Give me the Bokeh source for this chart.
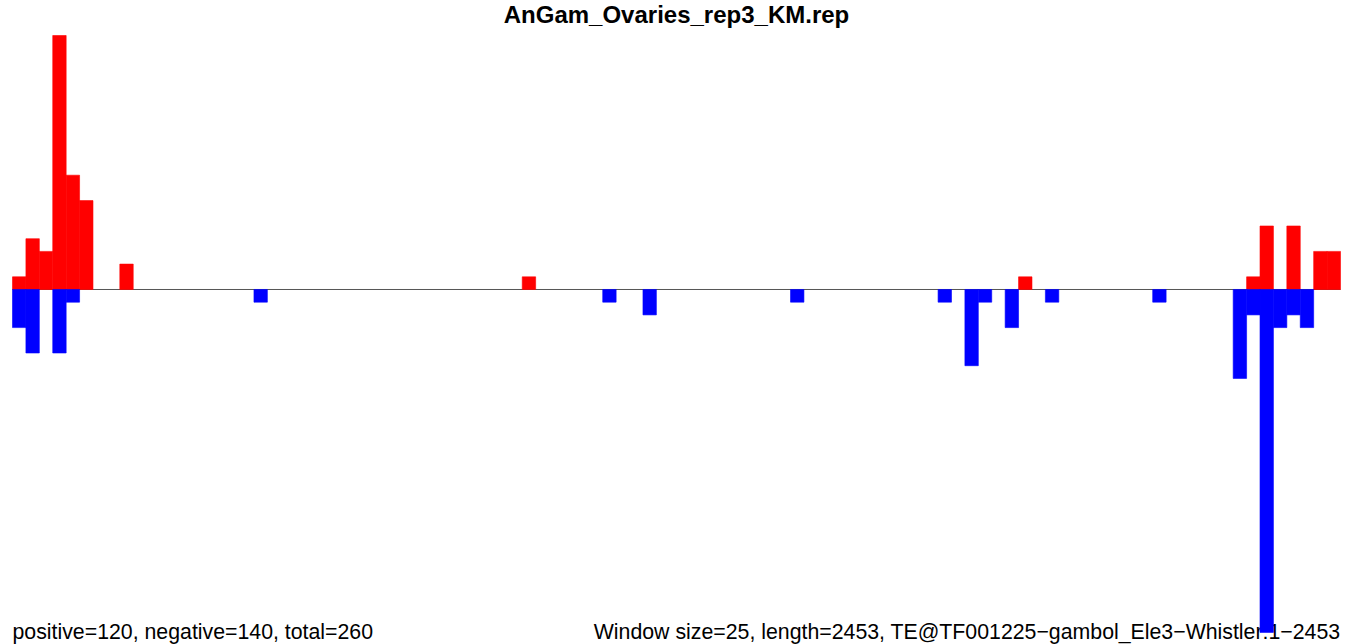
from bokeh.plotting import figure
from bokeh.models import Range1d
from bokeh.core.properties import value
from bokeh.embed import file_html
from bokeh.resources import INLINE

# ---- data ----
title_text = "AnGam_Ovaries_rep3_KM.rep"
n_windows = 99
pos_bins = [0, 1, 2, 3, 4, 5, 8, 38, 75, 92, 93, 95, 97, 98]
pos_vals = [1, 4, 3, 20, 9, 7, 2, 1, 1, 1, 5, 5, 3, 3]
neg_bins = [0, 1, 3, 4, 18, 44, 47, 58, 69, 71, 72, 74, 77, 85, 91, 92, 93, 94, 95, 96]
neg_vals = [3, 5, 5, 1, 1, 1, 2, 1, 1, 6, 1, 3, 1, 1, 7, 2, 27, 3, 2, 3]
left_note = "positive=120, negative=140, total=260"
right_note = "Window size=25, length=2453, TE@TF001225\u2212gambol_Ele3\u2212Whistler:1\u22122453"

W, H = 1352, 644
p = figure(width=W, height=H, output_backend="svg", toolbar_location=None,
           x_range=Range1d(-0.8946, n_windows + 0.8946),
           y_range=Range1d(-27.953, 22.756),
           min_border=0, min_border_left=0, min_border_right=0,
           min_border_top=0, min_border_bottom=0)
p.axis.visible = False
p.grid.visible = False
p.outline_line_color = None
p.background_fill_color = "white"
p.border_fill_color = "white"

font = value("Liberation Sans")

# bottom notes (drawn first so bars lie on top)
p.text(x=[0], y=[-27.0], text=[left_note], text_font=font, text_font_size="21.3px",
       text_align="left", text_baseline="alphabetic", text_color="black")
p.text(x=[n_windows], y=[-27.0], text=[right_note], text_font=font, text_font_size="21.3px",
       text_align="right", text_baseline="alphabetic", text_color="black")

# zero line
p.line(x=[0, n_windows], y=[0, 0], line_color="#555555", line_width=1)

# positive (red) and negative (blue) bars
p.quad(left=pos_bins, right=[b + 1 for b in pos_bins], bottom=0, top=pos_vals,
       fill_color="#ff0000", line_color="#ff0000", line_width=0.6)
p.quad(left=neg_bins, right=[b + 1 for b in neg_bins], top=0,
       bottom=[-v for v in neg_vals], fill_color="#0000ff", line_color="#0000ff",
       line_width=0.6)

# title
p.text(x=[n_windows / 2], y=[22.756], text=[title_text], text_font=font,
       text_font_size="24px", text_font_style="bold", text_align="center",
       text_baseline="top", text_color="black")

open("out.html", "w").write(file_html(p, INLINE))
